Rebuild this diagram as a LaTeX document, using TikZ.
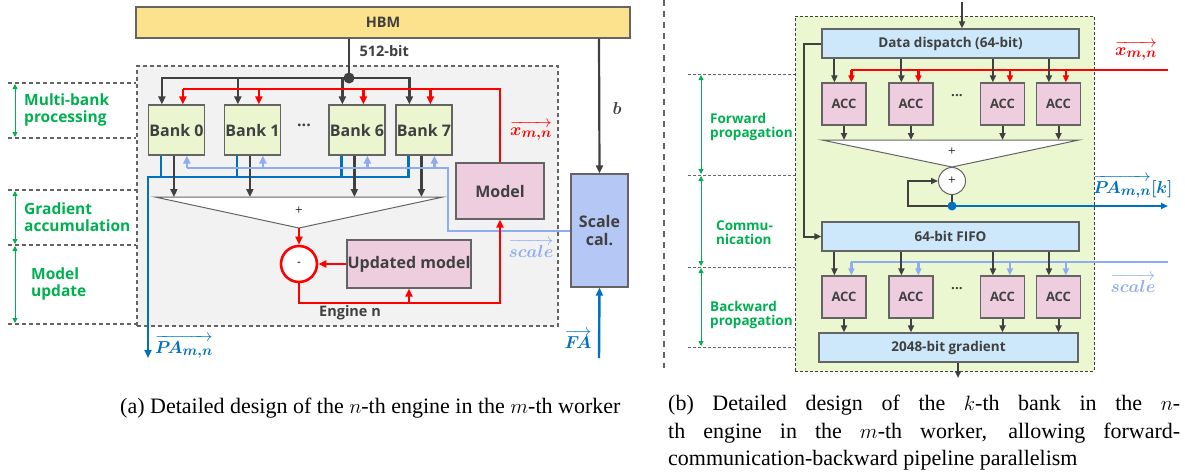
\documentclass[tikz,border=0pt]{standalone}
\usepackage{amsmath}
\usepackage{bm}
\usepackage{fontspec}
\setmainfont{Liberation Serif}
\newfontfamily\diagfont{Open Sans}
\usetikzlibrary{positioning,arrows.meta,calc}

\definecolor{inkgray}{RGB}{64,64,64}
\definecolor{boxgray}{RGB}{100,100,100}
\definecolor{hbmfill}{RGB}{253,226,142}
\definecolor{enginefill}{RGB}{242,242,242}
\definecolor{bankfill}{RGB}{235,246,208}
\definecolor{pinkfill}{RGB}{238,206,222}
\definecolor{scalefill}{RGB}{180,199,245}
\definecolor{fifofill}{RGB}{204,232,250}
\definecolor{areafill}{RGB}{235,247,208}
\definecolor{xred}{RGB}{255,0,0}
\definecolor{pablue}{RGB}{0,112,192}
\definecolor{scaleblue}{RGB}{143,172,240}
\definecolor{phasegreen}{RGB}{0,176,80}

\newcommand\bigtxt{\fontsize{16}{18}\selectfont}
\newcommand\midtxt{\fontsize{14.5}{16}\selectfont}
\newcommand\phasetxt{\fontsize{15.5}{16.5}\selectfont}
\newcommand\smalltxt{\fontsize{13.5}{14}\selectfont}
\newcommand\acctxt{\fontsize{13}{14}\selectfont}

\begin{document}
\begin{tikzpicture}[x=1pt,y=-1pt,
  font=\diagfont\bfseries,
  box/.style={rectangle,draw=boxgray,line width=1.2pt,text=inkgray,inner sep=0pt,align=center},
  bank/.style={box,fill=bankfill,minimum width=56pt,minimum height=50pt,font=\diagfont\bfseries\bigtxt},
  pinkbox/.style={box,fill=pinkfill,font=\diagfont\bfseries\bigtxt},
  acc/.style={box,fill=pinkfill,minimum width=44pt,minimum height=42pt,font=\diagfont\bfseries\acctxt},
  fifo/.style={box,fill=fifofill,minimum height=29pt,font=\diagfont\bfseries\smalltxt},
  phase/.style={text=phasegreen,align=left,anchor=west,inner sep=0pt},
  phaseline/.style={draw=boxgray,line width=1.2pt,dash pattern=on 4pt off 3pt},
  phasearr/.style={{Triangle[length=5pt,width=5pt]}-{Triangle[length=5pt,width=5pt]},phasegreen,line width=0.9pt},
  vlabel/.style={font=\fontsize{19}{20}\selectfont,inner sep=0pt},
  dline/.style={inkgray,line width=2.2pt},
  darr/.style={dline,-{Triangle[length=8pt,width=7pt]}},
  rline/.style={xred,line width=2.6pt},
  rarr/.style={rline,-{Triangle[length=8pt,width=7pt]}},
  bline/.style={pablue,line width=2.4pt},
  barr/.style={bline,-{Triangle[length=8pt,width=7pt]}},
  sline/.style={scaleblue,line width=2.2pt},
  sarr/.style={sline,-{Triangle[length=8pt,width=7pt]}},
  dline2/.style={inkgray,line width=2pt},
  darr2/.style={dline2,-{Triangle[length=7pt,width=6pt]}},
  rarr2/.style={xred,line width=2.2pt,-{Triangle[length=7pt,width=6pt]}},
  barr2/.style={pablue,line width=2.2pt,-{Triangle[length=7pt,width=6pt]}},
  sarr2/.style={scaleblue,line width=2.2pt,-{Triangle[length=7pt,width=6pt]}},
  adder/.style={draw=boxgray,line width=1pt,fill=white},
]
\useasboundingbox (0,0) rectangle (1185,471);

% ---------- Left: engine n ----------
\node[rectangle,fill=enginefill,draw=boxgray,line width=1.3pt,dash pattern=on 4pt off 3pt,
      minimum width=421pt,minimum height=260pt] (eng) at (347.5,196) {};
\node[box,fill=hbmfill,minimum width=494pt,minimum height=31pt,font=\diagfont\bfseries\midtxt] (hbm) at (383,22.5) {HBM};
\node[text=inkgray,font=\diagfont\bfseries\midtxt,anchor=west] (bus) at (356,51) {512-bit};
\coordinate (split) at (349,78);

\node[bank] (b0) at (176.5,130) {Bank 0};
\node[bank] (b1) at (252.5,130) {Bank 1};
\node[bank] (b6) at (357,130) {Bank 6};
\node[bank] (b7) at (424,130) {Bank 7};
\node[text=inkgray,font=\diagfont\bfseries\bigtxt] (bdots) at (304,125) {...};

\foreach \b in {b0,b1,b6,b7}{
  \coordinate (\b-kin) at ($(\b.north west)+(14,0)$);
  \coordinate (\b-xin) at ($(\b.north west)+(35,0)$);
  \coordinate (\b-pa)  at ($(\b.south west)+(13,0)$);
  \coordinate (\b-g)   at ($(\b.south west)+(26,0)$);
  \coordinate (\b-s)   at ($(\b.south west)+(39,0)$);
}

\node[pinkbox,minimum width=88pt,minimum height=56pt] (model) at (500,191) {Model};
\node[pinkbox,minimum width=124pt,minimum height=48pt] (upd) at (409,264) {Updated model};
\node[circle,draw=xred,line width=2.6pt,fill=white,minimum size=36pt,inner sep=0pt,text=inkgray] (sub) at (299,264) {-};
\node[box,fill=scalefill,minimum width=57pt,minimum height=113pt,font=\diagfont\bfseries\bigtxt] (scal) at (599.5,230.5) {Scale\\cal.};
\node[text=inkgray,font=\diagfont\bfseries\midtxt] (englbl) at (350,313) {Engine n};

% adder tree
\coordinate (sumtl) at (155,197);
\coordinate (sumtr) at (443,197);
\coordinate (sumtip) at (299,228);
\draw[adder] (sumtl) -- (sumtr) -- (sumtip) -- cycle;
\node[font=\normalfont\smalltxt] (sumlbl) at (299,211) {+};

% 512-bit bus
\draw[dline] (hbm.south -| split) -- (split);
\foreach \b in {b0,b1,b6,b7}
  \draw[darr] (split) -| (\b-kin);
\fill[inkgray] (split) circle (5.5);

% model broadcast
\coordinate (rbus) at (0,89);
\draw[rline] (model.north) |- (b0-xin |- rbus);
\foreach \b in {b0,b1,b6,b7}
  \draw[rarr] (\b-xin |- rbus) -- (\b-xin);

% partial activations out
\coordinate (pabus) at (0,177);
\coordinate (paout) at (148,358);
\draw[barr] (b7-pa) |- (paout |- pabus) -- (paout);
\foreach \b in {b0,b1,b6}
  \draw[bline] (\b-pa) -- (\b-pa |- pabus);

% gradients into the adder
\foreach \b in {b0,b1,b6,b7}
  \draw[darr] (\b-g) -- (\b-g |- sumtl);

% scale back to the banks
\coordinate (sbus) at (0,168);
\coordinate (sturn) at (448,231);
\draw[sline] (sturn -| scal.west) -- (sturn) |- (b0-s |- sbus);
\foreach \b in {b0,b1,b6,b7}
  \draw[sarr] (\b-s |- sbus) -- (\b-s);

% update loop
\coordinate (rloop) at (0,303);
\draw[rarr] (sumtip) -- (sub.north);
\draw[rarr] (upd.west) -- (sub.east);
\draw[rarr] (sub.south) |- (model.south |- rloop) -- (model.south);
\draw[rarr] (upd.south |- rloop) -- (upd.south);

% scale calculation
\coordinate (fain) at (599,358);
\draw[darr] (hbm.south -| fain) -- (scal.north);
\draw[barr] (fain) -- (scal.south);

\node[vlabel,text=inkgray] (blbl) at (617,108) {$\bm{b}$};
\node[vlabel,text=xred] (xlbl) at (531,131) {$\overrightarrow{\bm{x_{m,n}}}$};
\node[vlabel,text=scaleblue] (slbl) at (531,248) {$\overrightarrow{\bm{scale}}$};
\node[vlabel,text=pablue] (palbl) at (184,347) {$\overrightarrow{\bm{P\!A_{m,n}}}$};
\node[vlabel,text=pablue] (falbl) at (578,339) {$\overrightarrow{\bm{F\!A}}$};

% phases of the engine
\foreach \y in {83,138,190,245,324}
  \draw[phaseline] (8,\y) -- (eng.west |- 0,\y);
\draw[phasearr] (15,84) -- (15,137);
\draw[phasearr] (15,191) -- (15,244);
\draw[phasearr] (15,246) -- (15,323);
\node[phase,font=\diagfont\bfseries\phasetxt] (ph1) at (24,110) {Multi-bank\\processing};
\node[phase,font=\diagfont\bfseries\phasetxt] (ph2) at (24,217) {Gradient\\accumulation};
\node[phase,font=\diagfont\bfseries\phasetxt] (ph3) at (31,284) {Model\\update};

\draw[boxgray,line width=1.5pt,dash pattern=on 6pt off 5pt] (664,0) -- (664,368);

% ---------- Right: bank k ----------
\node[rectangle,fill=areafill,draw=inkgray,line width=1pt,dash pattern=on 3pt off 2pt,
      minimum width=299pt,minimum height=355pt] (area) at (944.5,193.5) {};
\node[fifo,minimum width=257pt] (disp) at (950.5,43.5) {Data dispatch (64-bit)};
\node[fifo,minimum width=257pt] (fifo) at (950.5,236.5) {64-bit FIFO};
\node[fifo,minimum width=259pt] (grad) at (948.5,347.5) {2048-bit gradient};

\node[acc] (f1) at (844,104) {ACC};
\node[acc] (f2) at (911,104) {ACC};
\node[acc] (f3) at (1002.5,104) {ACC};
\node[acc] (f4) at (1058.5,104) {ACC};
\node[acc] (g1) at (844,297) {ACC};
\node[acc] (g2) at (911,297) {ACC};
\node[acc] (g3) at (1002.5,297) {ACC};
\node[acc] (g4) at (1058.5,297) {ACC};
\node[text=inkgray,font=\diagfont\bfseries\smalltxt] (fdots) at (957,96) {...};
\node[text=inkgray,font=\diagfont\bfseries\smalltxt] (gdots) at (957,289) {...};

\foreach \a in {f1,f2,f3,f4,g1,g2,g3,g4}{
  \coordinate (\a-in) at ($(\a.north west)+(13,0)$);
  \coordinate (\a-w)  at ($(\a.north west)+(30,0)$);
}

\coordinate (din) at (962,2);
\draw[darr2] (din) -- (din |- disp.north);

% forward: dispatch, weights and reduction
\coordinate (xbus) at (1168,70);
\coordinate (sumtop) at (0,140);
\draw[xred,line width=2.2pt] (xbus) -- (f1-w |- xbus);
\foreach \a in {f1,f2,f3,f4}{
  \draw[darr2] (\a-in |- disp.south) -- (\a-in);
  \draw[rarr2] (\a-w |- xbus) -- (\a-w);
  \draw[darr2] (\a.south) -- (\a.south |- sumtop);
}
\coordinate (addtl) at (822,140);
\coordinate (addtr) at (1079,140);
\coordinate (addtip) at (952,167);
\draw[adder] (addtl) -- (addtr) -- (addtip) -- cycle;
\node[font=\normalfont\smalltxt] (addlbl) at (952,152) {+};
\node[circle,adder,minimum size=27pt,inner sep=0pt,font=\normalfont\smalltxt] (acum) at (952,181) {+};

\coordinate (pk) at (952,206);
\coordinate (loopc) at (908,206);
\draw[dline2] (acum.south) -- (pk);
\draw[darr2] (pk) -- (loopc) |- (acum.west);
\draw[barr2] (pk) -- (pk -| xbus);
\fill[pablue] (pk) circle (4.5);

% communication path
\coordinate (fwd) at (804,43.5);
\draw[darr2] (disp.west) -- (fwd) |- (fifo.west);

% backward
\coordinate (sbus2) at (1168,262);
\draw[scaleblue,line width=2.2pt] (sbus2) -- (g1-w |- sbus2);
\foreach \a in {g1,g2,g3,g4}{
  \draw[darr2] (\a-in |- fifo.south) -- (\a-in);
  \draw[sarr2] (\a-w |- sbus2) -- (\a-w);
  \draw[darr2] (\a.south) -- (\a.south |- grad.north);
}
\coordinate (gout) at (958,378);
\draw[darr2] (gout |- grad.south) -- (gout);

\node[vlabel,text=xred] (xlbl2) at (1136,51) {$\overrightarrow{\bm{x_{m,n}}}$};
\node[vlabel,text=pablue] (palbl2) at (1133,187) {$\overrightarrow{\bm{P\!A_{m,n}}}\bm{[k]}$};
\node[vlabel,text=scaleblue] (slbl2) at (1133,283) {$\overrightarrow{\bm{scale}}$};

% phases of the bank
\foreach \y in {74,175,267,347}
  \draw[boxgray,line width=1pt,dash pattern=on 3pt off 2pt] (688,\y) -- (area.west |- 0,\y);
\draw[phasearr] (701,75) -- (701,174);
\draw[phasearr] (701,176) -- (701,266);
\draw[phasearr] (701,268) -- (701,346);
\node[phase,font=\diagfont\bfseries\smalltxt] (q1) at (710,127) {Forward\\propagation};
\node[phase,font=\diagfont\bfseries\smalltxt] (q2) at (716,233) {Commu-\\nication};
\node[phase,font=\diagfont\bfseries\smalltxt] (q3) at (710,315) {Backward\\propagation};

% ---------- captions ----------
\node[anchor=west,font=\normalfont\fontsize{22}{27.5}\selectfont,inner sep=0pt] (capa) at (120,408)
  {(a) Detailed design of the $n$-th engine in the $m$-th worker};
\node[anchor=north west,text width=512pt,align=justify,inner sep=0pt,
      font=\normalfont\fontsize{22}{27.5}\selectfont] (capb) at (668,395)
  {(b) Detailed design of the $k$-th bank in the $n$-\linebreak
   th engine in the $m$-th worker, allowing forward-\linebreak
   communication-backward pipeline parallelism};
\end{tikzpicture}
\end{document}
